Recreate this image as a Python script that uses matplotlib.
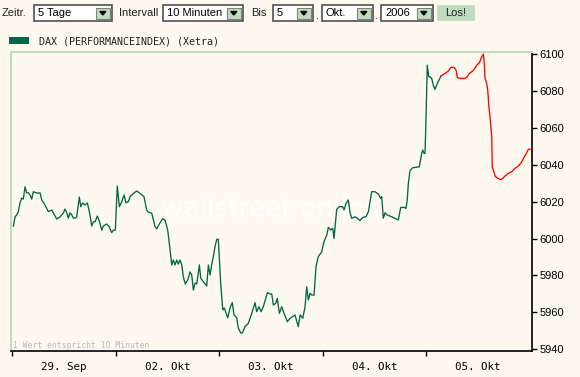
import matplotlib
matplotlib.use("Agg")
import matplotlib.pyplot as plt
from matplotlib.patches import Rectangle, Polygon
import numpy as np

# Zeit in Handelstagen ab 29. Sep (0 = Eroeffnung), DAX-Stand
t_gruen = [0.013, 0.029, 0.045, 0.061, 0.077, 0.094, 0.109, 0.126, 0.142, 0.157, 0.174, 0.190, 0.206, 0.239,
           0.271, 0.287, 0.319, 0.351, 0.384, 0.399, 0.432, 0.464, 0.496, 0.512, 0.529, 0.544, 0.560, 0.577,
           0.592, 0.609, 0.625, 0.650, 0.664, 0.683, 0.705, 0.728, 0.747, 0.770, 0.786, 0.802, 0.824, 0.843,
           0.867, 0.882, 0.915, 0.940, 0.963, 0.979, 0.998,
           1.017, 1.037, 1.060, 1.082, 1.101, 1.124, 1.140, 1.172, 1.205, 1.237, 1.275, 1.301, 1.317, 1.350,
           1.382, 1.398, 1.423, 1.456, 1.478, 1.504, 1.527, 1.543, 1.558, 1.575, 1.591, 1.607, 1.623, 1.640,
           1.655, 1.674, 1.698, 1.720, 1.736, 1.752, 1.768, 1.785, 1.810, 1.823, 1.848, 1.881, 1.897, 1.913,
           1.929, 1.945, 1.961, 1.978, 1.993,
           2.016, 2.036, 2.051, 2.068, 2.084, 2.106, 2.128, 2.145, 2.171, 2.186, 2.210, 2.225, 2.251, 2.283,
           2.316, 2.348, 2.364, 2.386, 2.406, 2.428, 2.467, 2.493, 2.509, 2.525, 2.548, 2.563, 2.583, 2.606,
           2.628, 2.660, 2.686, 2.734, 2.766, 2.783, 2.809, 2.831, 2.847, 2.863, 2.879, 2.896, 2.918, 2.937,
           2.959, 2.992,
           3.014, 3.041, 3.056, 3.079, 3.099, 3.111, 3.137, 3.162, 3.195, 3.208, 3.227, 3.249, 3.266, 3.282,
           3.314, 3.340, 3.362, 3.388, 3.420, 3.443, 3.459, 3.475, 3.507, 3.539, 3.562, 3.572, 3.587, 3.604,
           3.626, 3.669, 3.700, 3.732, 3.756, 3.787, 3.807, 3.819, 3.829, 3.845, 3.871, 3.935, 3.958, 3.968,
           3.981, 3.990,
           3.997, 4.007, 4.012, 4.026, 4.039, 4.055, 4.070, 4.087, 4.109, 4.129, 4.145]
dax_gruen = [6006.8, 6011.8, 6012.8, 6014.6, 6019.3, 6022.0, 6021.4, 6028.1, 6024.7, 6024.9, 6023.6, 6021.4,
             6025.4, 6024.7, 6024.7, 6020.9, 6018.2, 6014.6, 6015.5, 6013.9, 6010.6, 6011.8, 6013.9, 6016.0,
             6013.9, 6011.1, 6014.0, 6012.8, 6011.1, 6011.1, 6011.8, 6022.5, 6017.3, 6019.3, 6018.2, 6019.3,
             6014.6, 6006.8, 6009.1, 6009.1, 6012.2, 6009.5, 6004.6, 6006.8, 6007.9, 6006.4, 6003.2, 6004.6,
             6004.6,
             6028.5, 6017.3, 6020.0, 6023.6, 6019.4, 6020.0, 6022.7, 6024.5, 6025.8, 6024.5, 6022.7, 6015.5,
             6014.4, 6013.7, 6006.4, 6005.3, 6007.9, 6010.8, 6010.1, 6004.6, 5993.8, 5985.7, 5988.4, 5985.7,
             5988.4, 5986.2, 5988.4, 5985.7, 5979.3, 5975.4, 5977.6, 5981.9, 5980.3, 5972.1, 5975.9, 5975.4,
             5985.7, 5978.6, 5976.6, 5974.3, 5985.7, 5980.3, 5985.7, 5990.2, 5995.6, 5999.6, 5999.6,
             5975.8, 5961.3, 5962.4, 5959.7, 5957.0, 5962.4, 5965.3, 5958.6, 5957.0, 5951.5, 5948.8, 5948.8,
             5952.3, 5954.1, 5959.5, 5965.3, 5960.4, 5963.1, 5960.4, 5963.1, 5970.7, 5970.0, 5970.0, 5964.0,
             5964.9, 5967.6, 5959.5, 5963.1, 5959.5, 5955.0, 5956.8, 5958.6, 5952.3, 5958.6, 5956.8, 5963.1,
             5973.9, 5966.7, 5970.3, 5969.4, 5969.4, 5984.8, 5990.2, 5992.9,
             5998.3, 6001.9, 6006.1, 6004.6, 6005.6, 6000.1, 6015.9, 6017.3, 6017.3, 6015.5, 6019.1, 6020.9,
             6014.0, 6011.0, 6011.8, 6011.0, 6009.7, 6011.5, 6011.8, 6014.6, 6020.0, 6025.4, 6025.4, 6024.1,
             6021.8, 6022.7, 6011.0, 6014.0, 6012.8, 6011.8, 6011.0, 6010.1, 6016.9, 6016.9, 6016.4, 6021.3,
             6029.9, 6036.8, 6038.4, 6038.9, 6046.2, 6048.0, 6046.2, 6046.2,
             6058.8, 6082.3, 6094.0, 6087.7, 6087.7, 6086.8, 6083.2, 6080.9, 6084.1, 6086.3, 6088.1]

t_rot = [4.145, 4.184, 4.215, 4.242, 4.271, 4.290, 4.302, 4.329, 4.377, 4.399, 4.418, 4.451, 4.473, 4.490,
         4.515, 4.538, 4.554, 4.563, 4.570, 4.586, 4.596, 4.609, 4.618, 4.635, 4.640, 4.650, 4.667, 4.683,
         4.715, 4.731, 4.763, 4.795, 4.828, 4.860, 4.892, 4.925, 4.950, 4.973, 4.988, 5.005]
dax_rot = [6088.1, 6089.5, 6090.8, 6092.8, 6092.8, 6091.3, 6087.4, 6086.8, 6086.8, 6087.7, 6089.5, 6090.8,
           6092.3, 6094.0, 6095.3, 6098.5, 6100.0, 6095.0, 6086.8, 6084.1, 6080.5, 6070.6, 6066.0, 6055.2,
           6038.9, 6037.2, 6033.9, 6033.0, 6032.1, 6032.1, 6033.9, 6035.4, 6036.2, 6038.1, 6039.3, 6041.6,
           6044.4, 6046.5, 6048.4, 6048.4]

tage = ['29. Sep', '02. Okt', '03. Okt', '04. Okt', '05. Okt']
y_ticks = [5940, 5960, 5980, 6000, 6020, 6040, 6060, 6080, 6100]

bg = '#fef9ee'
gruen = '#006644'
hellgruen = '#c0dcc0'
W, H = 580, 377

fig = plt.figure(figsize=(W / 100, H / 100), dpi=100, facecolor=bg)


def px(x, y):
    # Pixelkoordinaten (oben links) -> Figure-Koordinaten
    return x / W, 1 - y / H


def rect(x0, y0, x1, y1, **kw):
    fig.add_artist(Rectangle(px(x0, y1), (x1 - x0) / W, (y1 - y0) / H,
                             transform=fig.transFigure, **kw))


def text(x, y, s, **kw):
    fx, fy = px(x, y)
    fig.text(fx, fy, s, va='center', **kw)


def dropdown(x0, x1, label):
    rect(x0, 5, x1, 21, facecolor='white', edgecolor='#505050', lw=1.2)
    rect(x1 - 16, 7.5, x1 - 2.5, 18.5, facecolor=hellgruen, edgecolor='#808080', lw=0.8)
    cx = x1 - 9.2
    tri = [px(cx - 3, 11.5), px(cx + 3, 11.5), px(cx, 15)]
    fig.add_artist(Polygon(tri, closed=True, transform=fig.transFigure, color='black'))
    text(x0 + 4, 13.5, label, fontsize=8, family='Liberation Sans')


# Formularzeile
ui = dict(fontsize=8, family='Liberation Sans', color='#202020')
text(2, 13, 'Zeitr.', **ui)
dropdown(34, 112, '5 Tage')
text(119, 13, 'Intervall', **ui)
dropdown(163, 243, '10 Minuten')
text(251, 13, 'Bis', **ui)
dropdown(273, 313, '5')
text(316, 16, '.', **ui)
dropdown(322, 373, 'Okt.')
text(375, 16, '.', **ui)
dropdown(381, 433, '2006')
rect(437, 5, 474, 20, facecolor=hellgruen, edgecolor=hellgruen, lw=0.5)
text(455.5, 12.5, 'Los!', ha='center', **ui)

# Legende
rect(9, 37.5, 29, 44, facecolor=gruen, edgecolor='none')
text(39, 41, 'DAX (PERFORMANCEINDEX) (Xetra)', fontsize=7.2, family='DejaVu Sans Mono', color='#202020')

# Chart
ax = fig.add_axes([11 / W, 26 / H, 520.5 / W, 299.5 / H], facecolor=bg)
ax.plot(t_gruen, dax_gruen, color=gruen, lw=0.95, zorder=3)
ax.plot(t_rot, dax_rot, color='#ff0000', lw=0.95, zorder=3)

ax.set_xlim(-0.01, 5.019)
ax.set_ylim(5939.08, 6101.4)

for s in ['left', 'top']:
    ax.spines[s].set_color(hellgruen)
    ax.spines[s].set_linewidth(1.5)
for s in ['right', 'bottom']:
    ax.spines[s].set_color('black')
    ax.spines[s].set_linewidth(1.2)

ax.yaxis.tick_right()
ax.set_yticks(y_ticks)
ax.set_yticklabels([str(v) for v in y_ticks], fontsize=8, family='Liberation Sans')
ax.tick_params(axis='y', direction='out', length=3.5, width=1, pad=2, colors='black')

ax.set_xticks(np.arange(len(tage)))
ax.set_xticklabels([])
ax.set_xticks(np.arange(len(tage)) + 0.5, minor=True)
ax.set_xticklabels(tage, minor=True, fontsize=7.8, family='DejaVu Sans Mono')
ax.tick_params(axis='x', which='major', direction='out', length=3.5, width=1)
ax.tick_params(axis='x', which='minor', length=0, pad=8)

# Wasserzeichen und Hinweis
ax.text(0.5, 0.47, 'wallstreet online', transform=ax.transAxes, ha='center', va='center',
        fontsize=19, color='white', alpha=0.7, zorder=1)
ax.text(0.003, 0.02, '1 Wert entspricht 10 Minuten', transform=ax.transAxes, fontsize=5.8,
        family='DejaVu Sans Mono', color='#b8b8b8', va='center')

fig.savefig('out.png', dpi=100, facecolor=bg)
